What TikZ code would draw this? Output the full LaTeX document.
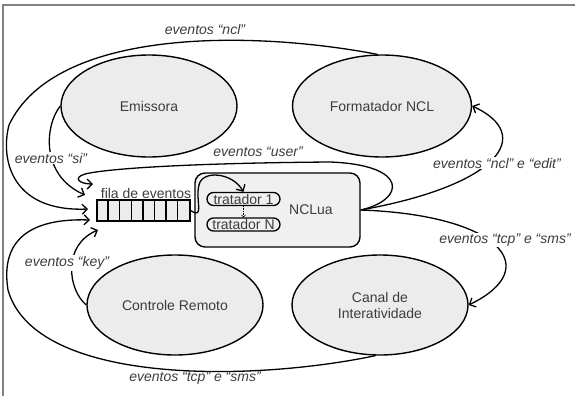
\documentclass[tikz,border=0pt]{standalone}
\usepackage{fontspec}
\setmainfont{Liberation Sans}
\usetikzlibrary{arrows.meta,shapes.geometric}

\definecolor{ovalgray}{RGB}{236,236,236}
\definecolor{boxgray}{RGB}{240,240,240}
\definecolor{txtgray}{RGB}{60,60,60}

\tikzset{
  ator/.style={ellipse, draw, line width=1.4pt, fill=ovalgray, text=txtgray, align=center, inner sep=0pt},
  caixa/.style={draw, rounded corners=10pt, fill=boxgray, line width=1.4pt},
  tratador/.style={draw, rounded corners=6.5pt, fill=boxgray, text=txtgray, minimum width=73pt, minimum height=13pt, inner sep=0pt},
  fila/.style={draw, fill=ovalgray, inner sep=0pt},
  evento/.style={font=\fontsize{14}{16}\selectfont\itshape, text=txtgray, inner sep=1pt},
  sobre/.style={evento, fill=white}
}

\begin{document}
\begin{tikzpicture}[x=1pt,y=-1pt,line width=1.3pt,>={Straight Barb[length=5pt,width=10pt]},font=\fontsize{14}{16}\selectfont]
    \useasboundingbox (0,0) rectangle (575,396);
    % moldura
    \draw[gray,line width=1.5pt] (3,396) -- (3,5) -- (575,5);

    % entidades
    \node[ator,minimum width=176pt,minimum height=102pt] (emis) at (149,106) {Emissora};
    \node[ator,minimum width=179pt,minimum height=102pt] (form) at (382,106) {Formatador NCL};
    \node[ator,minimum width=176pt,minimum height=100pt] (ctrl) at (175,305) {Controle Remoto};
    \node[ator,minimum width=176pt,minimum height=100pt] (canal) at (380,305) {Canal de\\Interatividade};

    % NCLua e tratadores
    \node[caixa,minimum width=165pt,minimum height=74pt] (nclua) at (277.5,210) {};
    \node[text=txtgray] (ncluatxt) at (311,210) {NCLua};
    \node[tratador] (t1) at (243.5,199) {tratador 1};
    \node[tratador] (tN) at (243.5,224.5) {tratador N};
    \draw[->,densely dotted,line width=0.6pt,>={Straight Barb[length=2pt,width=4pt]}] (t1) -- (tN);

    % fila de eventos
    \node[fila,minimum width=93pt,minimum height=21pt] (q) at (143.5,210.5) {};
    \foreach \i in {1,...,7}
      \draw ([xshift=\i*11.625pt]q.north west) -- ([xshift=\i*11.625pt]q.south west);
    \node[text=txtgray] (qtxt) at (146,193) {fila de eventos};

    \coordinate (in_user) at (93,184);
    \coordinate (in_si) at (85,195);
    \coordinate (in_ncl) at (88,209);
    \coordinate (in_tcp) at (90,220);
    \coordinate (in_key) at (98,230);

    % eventos "ncl"
    \draw[->] (form.95) .. controls (250,30) and (55,28) .. (9,125)
              .. controls (0,160) and (12,212) .. (in_ncl);
    % eventos "si"
    \draw[->] (emis.west) .. controls (45,125) and (40,175) .. (in_si);
    % eventos "user"
    \draw[->] (nclua.east) .. controls (405,200) and (410,165) .. (330,162)
              .. controls (200,163) and (110,168) .. (85,174)
              .. controls (72,178) and (80,184) .. (in_user);
    % eventos "ncl" e "edit"
    \draw[->] (nclua.east) .. controls (500,185) and (535,135) .. (form.east);
    % eventos "tcp" e "sms" para o canal
    \draw[->] (nclua.east) .. controls (500,215) and (545,268) .. (canal.east);
    % eventos "tcp" e "sms" vindos do canal
    \draw[->] (canal.265) .. controls (250,382) and (35,385) .. (8,290)
              .. controls (0,240) and (30,218) .. (in_tcp);
    % eventos "key"
    \draw[->] (ctrl.west) .. controls (68,290) and (62,245) .. (in_key);
    % fila -> tratador
    \draw[->] (q.east) .. controls (205,220) and (195,200) .. (199,185)
              .. controls (202,170) and (232,172) .. (t1.north);

    % rotulos
    \node[evento] (lncl) at (205,29) {eventos “ncl”};
    \node[sobre] (lsi) at (51,158) {eventos “si”};
    \node[evento] (luser) at (258,152) {eventos “user”};
    \node[sobre] (ledit) at (497,163) {eventos “ncl” e “edit”};
    \node[sobre] (ltcpa) at (505,240) {eventos “tcp” e “sms”};
    \node[sobre] (lkey) at (67,263) {eventos “key”};
    \node[evento] (ltcpb) at (195,378) {eventos “tcp” e “sms”};
\end{tikzpicture}
\end{document}
